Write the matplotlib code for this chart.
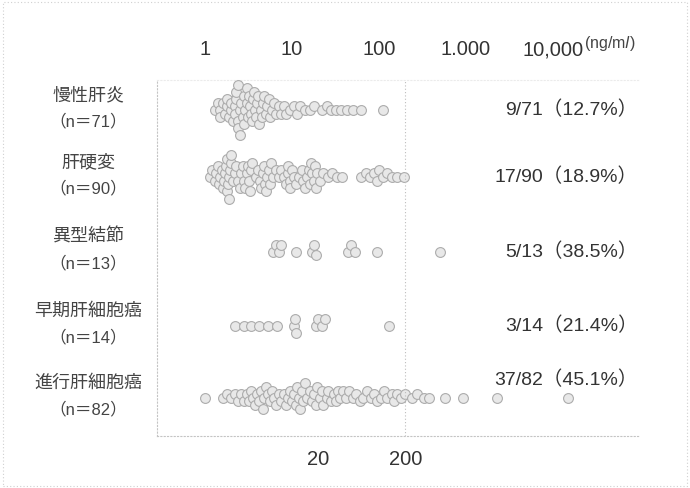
import numpy as np
import matplotlib
matplotlib.use("Agg")
import matplotlib.pyplot as plt
from matplotlib import transforms
from matplotlib.patches import Rectangle

plt.rcParams['font.family'] = ['Liberation Sans', 'Noto Sans CJK JP', 'DejaVu Sans']

# ---- data (AFP, ng/ml) ----
categories = ["慢性肝炎", "肝硬変", "異型結節", "早期肝細胞癌", "進行肝細胞癌"]

chronic_hepatitis = [
    1.3, 1.4, 1.5, 1.5, 1.6, 1.7, 1.8, 1.8, 1.9, 2.0, 2.0, 2.1, 2.2, 2.2, 2.3,
    2.3, 2.4, 2.4, 2.4, 2.5, 2.5, 2.6, 2.7, 2.8, 2.8, 2.9, 3.0, 3.0, 3.1, 3.2,
    3.3, 3.4, 3.5, 3.6, 3.7, 3.8, 3.9, 4.0, 4.1, 4.2, 4.4, 4.5, 4.6, 4.8, 5.0,
    5.2, 5.4, 5.6, 5.9, 6.2, 6.5, 7.0, 7.5, 8.0, 8.6, 9.5, 10.5, 11.5, 12.5,
    14.0, 16.0, 18.0,
    22, 25, 28, 32, 37, 43, 50, 62, 110,
]
cirrhosis = [
    1.15, 1.2, 1.3, 1.35, 1.4, 1.45, 1.5, 1.55, 1.6, 1.65, 1.7, 1.75, 1.8, 1.8,
    1.85, 1.9, 1.9, 1.95, 2.0, 2.0, 2.1, 2.2, 2.3, 2.4, 2.5, 2.6, 2.7, 2.8, 2.9,
    3.0, 3.1, 3.2, 3.3, 3.4, 3.5, 3.9, 4.1, 4.3, 4.4, 4.6, 4.8, 4.9, 5.0, 5.2,
    5.4, 5.6, 5.8, 6.0, 6.5, 7.0, 7.5, 8.0, 8.5, 9.0, 9.0, 9.5, 9.5, 10.0, 10.5,
    11.0, 12.0, 13.0, 13.5, 14.0, 15.0, 15.5, 16.0, 16.5, 17.0, 18.0, 18.5,
    19.0, 19.5,
    21, 23, 26, 29, 33, 38, 62, 70, 78, 88, 95, 100, 110, 125, 140, 160, 195,
]
dysplastic_nodule = [6.0, 6.5, 7.0, 7.5, 11, 17, 18, 19, 44, 48, 53, 95, 500]
early_hcc = [2.2, 2.8, 3.4, 4.2, 5.3, 6.8, 10.5, 10.8, 11, 19, 20, 22, 24, 130]
advanced_hcc = [
    1.0, 1.6, 1.8, 2.0, 2.2, 2.4, 2.6, 2.8, 3.0, 3.2, 3.4, 3.6, 3.8, 4.0, 4.2,
    4.4, 4.6, 4.8, 5.0, 5.3, 5.6, 5.9, 6.2, 6.5, 7.0, 7.5, 8.0, 8.5, 9.0, 9.5,
    10.0, 10.5, 11.0, 11.5, 12.0, 12.5, 13.0, 13.5, 14.0, 15.0, 16.0, 17.0,
    18.0, 19.0, 19.5,
    21, 22, 23, 25, 26, 28, 30, 32, 34, 36, 39, 42, 45, 50, 55, 60, 66, 72, 80,
    88, 95, 105, 115, 125, 140, 150, 160, 180, 200, 240, 270, 330, 380, 580,
    920, 2300, 15000,
]
groups = [chronic_hepatitis, cirrhosis, dysplastic_nodule, early_hcc, advanced_hcc]

cutoff = 20
top_ticks = [1, 10, 100, 1000, 10000]
top_labels = ["1", "10", "100", "1.000", "10,000"]
bottom_ticks = [20, 200]
bottom_labels = ["20", "200"]

# ---- layout ----
row_pos = [0.0, 0.93, 1.97, 3.0, 4.0]
rate_label_shift = [0.0, 0.0, 0.0, 0.0, -0.25]

W, H = 690, 488
fig = plt.figure(figsize=(W / 100, H / 100), dpi=100)
fig.patch.set_facecolor("white")
left_px, right_px, top_px, bottom_px = 157, 640, 80, 436
ax = fig.add_axes([left_px / W, 1 - bottom_px / H,
                   (right_px - left_px) / W, (bottom_px - top_px) / H])
ax.set_xscale("log")
ax.set_xlim(10 ** -0.552, 10 ** 5.0)
ax.set_ylim(4.53, -0.417)

spine_col = "#c4c4c4"
for side in ("left", "bottom", "top"):
    ax.spines[side].set_linestyle((0, (1, 2)))
    ax.spines[side].set_color(spine_col)
    ax.spines[side].set_linewidth(0.8)
ax.spines["top"].set_color("#ebebeb")
ax.spines["right"].set_visible(False)
ax.set_yticks([])
ax.xaxis.set_minor_locator(matplotlib.ticker.NullLocator())
ax.set_xticks(bottom_ticks)
ax.set_xticklabels(bottom_labels)
ax.tick_params(axis="x", length=0, pad=10, labelsize=14.5, labelcolor="#333333")

sec = ax.secondary_xaxis("top")
sec.set_xticks(top_ticks)
sec.set_xticklabels(top_labels)
sec.xaxis.set_minor_locator(matplotlib.ticker.NullLocator())
sec.tick_params(axis="x", length=0, pad=15, labelsize=14.5, labelcolor="#333333")
sec.spines["top"].set_visible(False)

ax.annotate("(ng/m$\\mathit{l}$)", xy=(10000, 1), xycoords=("data", "axes fraction"),
            xytext=(22, 26), textcoords="offset points", fontsize=11.5,
            color="#444444", ha="left", va="center")

# cutoff line at 200
ax.axvline(200, color="#bdbdbd", linestyle=(0, (1, 2)), linewidth=0.8, zorder=4)

# ---- beeswarm placement computed in pixel space ----
fig.canvas.draw()
p0 = ax.transData.transform((1, 0))
p1 = ax.transData.transform((1, 1))
px_per_unit = abs(p1[1] - p0[1])

def swarm(values, min_gap=5.0, step=3.6):
    order = np.argsort(values, kind="stable")
    xs = np.array([ax.transData.transform((v, 0))[0] for v in values])
    placed = []
    offsets = np.zeros(len(values))
    cands = [0]
    for i in range(1, 40):
        cands += [i, -i]
    for idx in order:
        x = xs[idx]
        for c in cands:
            y = c * step
            if all((x - px) ** 2 + (y - py) ** 2 >= min_gap ** 2 for px, py in placed):
                break
        placed.append((x, y))
        offsets[idx] = y
    return offsets

for vals, row in zip(groups, row_pos):
    vals = np.asarray(vals, dtype=float)
    off = swarm(vals)
    yy = row - off / px_per_unit
    order = np.argsort(vals, kind="stable")
    ax.scatter(vals[order], yy[order], s=50, facecolor="#e8e8e8",
               edgecolor="#acacac", linewidth=0.8, zorder=3)

# ---- labels ----
left_tr = transforms.blended_transform_factory(fig.transFigure, ax.transData)
for name, vals, row in zip(categories, groups, row_pos):
    ax.text(88 / W, row - 0.21, name, transform=left_tr, ha="center", va="center",
            fontsize=13, color="#444444", family=["Noto Sans CJK JP"])
    ax.text(88 / W, row + 0.16, f"（n＝{len(vals)}）", transform=left_tr,
            ha="center", va="center", fontsize=12, color="#444444",
            family=["Liberation Sans", "Noto Sans CJK JP"])

right_tr = transforms.blended_transform_factory(ax.transAxes, ax.transData)
for vals, row, shift in zip(groups, row_pos, rate_label_shift):
    n = len(vals)
    k = sum(1 for v in vals if v > cutoff)
    ax.text(0.995, row + shift, f"{k}/{n}（{100 * k / n:.1f}%）", transform=right_tr,
            ha="right", va="center", fontsize=14, color="#333333",
            family=["Liberation Sans", "Noto Sans CJK JP"])

fig.add_artist(Rectangle((0.004, 0.004), 0.992, 0.992, transform=fig.transFigure,
                         fill=False, edgecolor="#d0d0d0", linestyle=(0, (1, 2)),
                         linewidth=0.8))

fig.savefig("out.png", dpi=100, facecolor="white")
